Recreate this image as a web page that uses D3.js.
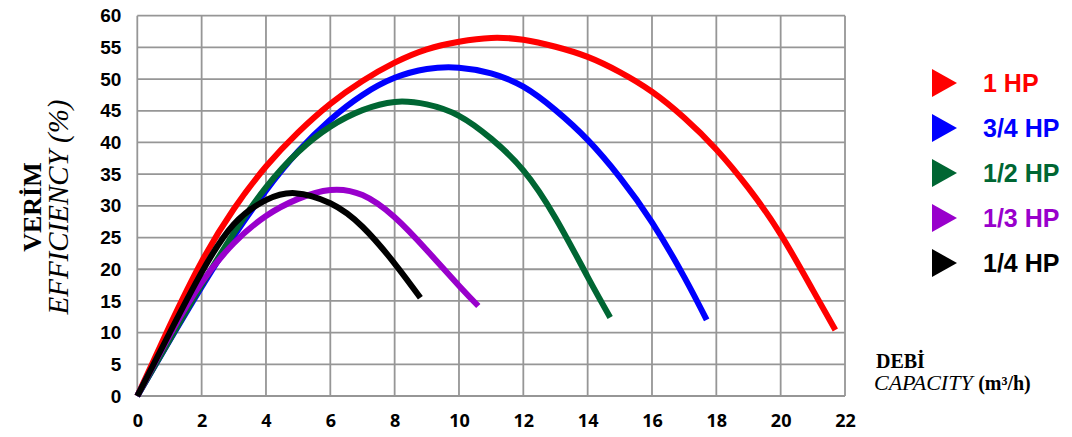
<!DOCTYPE html>
<html>
<head>
<meta charset="utf-8">
<script src="https://cdn.jsdelivr.net/npm/d3@7"></script>
<style>
  html, body { margin: 0; padding: 0; background: #fff; }
  svg { display: block; }
</style>
</head>
<body>
<svg id="chart" width="1072" height="437"></svg>
<script>
// ---------- DATA ----------
const seriesNames = ["1 HP", "3/4 HP", "1/2 HP", "1/3 HP", "1/4 HP"];
const seriesColors = ["#ff0000", "#0000ff", "#006633", "#9900cc", "#000000"];

const hp1Q   = [0, 1, 2, 3, 4, 5, 6, 7, 8, 9, 10, 11, 12, 13, 14, 15, 16, 17, 18, 19, 20, 21, 21.7];
const hp1E   = [0, 11.0, 21.2, 29.5, 36.2, 41.6, 46.1, 49.7, 52.6, 54.7, 55.9, 56.5, 56.2, 55.1, 53.5, 51.1, 48.0, 43.9, 38.9, 32.8, 25.5, 16.7, 10.4];

const hp34Q  = [0, 1, 2, 3, 4, 5, 6, 7, 8, 9, 10, 11, 12, 13, 14, 15, 16, 17, 17.7];
const hp34E  = [0, 8.7, 17.2, 25.2, 32.4, 38.6, 43.6, 47.5, 50.2, 51.6, 51.8, 50.9, 48.8, 45.1, 40.4, 34.5, 27.4, 18.8, 12.0];

const hp12Q  = [0, 1, 2, 3, 4, 5, 6, 7, 8, 9, 10, 11, 12, 13, 14, 14.7];
const hp12E  = [0, 8.8, 17.5, 25.7, 32.9, 38.5, 42.5, 45.1, 46.4, 46.0, 44.2, 40.6, 35.6, 28.1, 18.8, 12.4];

const hp13Q  = [0, 1, 2, 3, 4, 5, 6, 7, 8, 9, 10, 10.6];
const hp13E  = [0, 9.5, 17.9, 24.1, 28.4, 31.1, 32.5, 31.7, 28.2, 23.0, 17.4, 14.2];

const hp14Q  = [0, 1, 2, 3, 4, 4.9, 6, 7, 8, 8.8];
const hp14E  = [0, 9.9, 19.5, 27.1, 30.9, 32.0, 30.4, 26.7, 20.9, 15.5];

const xTicks = [0, 2, 4, 6, 8, 10, 12, 14, 16, 18, 20, 22];
const yTicks = [0, 5, 10, 15, 20, 25, 30, 35, 40, 45, 50, 55, 60];

// ---------- BUILD ----------
const seriesQ = [hp1Q, hp34Q, hp12Q, hp13Q, hp14Q];
const seriesE = [hp1E, hp34E, hp12E, hp13E, hp14E];
const series = seriesNames.map((name, i) => ({
  name, color: seriesColors[i],
  points: seriesQ[i].map((q, j) => ({ q, e: seriesE[i][j] }))
}));

const svg = d3.select("#chart");
const x = d3.scaleLinear().domain([0, 22]).range([137.3, 845]);
const y = d3.scaleLinear().domain([0, 60]).range([396, 15.7]);

const gridColor = "#969696";
const grid = svg.append("g");
grid.selectAll("line.v").data(xTicks).join("line")
  .attr("x1", d => x(d)).attr("x2", d => x(d))
  .attr("y1", y(0)).attr("y2", y(60))
  .attr("stroke", gridColor).attr("stroke-width", 1.8);
grid.selectAll("line.h").data(yTicks).join("line")
  .attr("x1", x(0)).attr("x2", x(22))
  .attr("y1", d => y(d)).attr("y2", d => y(d))
  .attr("stroke", gridColor).attr("stroke-width", 1.8);

// Y axis labels
const yAxis = d3.axisLeft(y).tickValues(yTicks).tickSize(0).tickPadding(16);
const gy = svg.append("g").attr("transform", `translate(${x(0)},0)`).call(yAxis);
gy.select(".domain").remove();
gy.selectAll("text")
  .attr("font-family", "'Liberation Sans', Arial, sans-serif")
  .attr("font-weight", "bold").attr("font-size", 19).attr("fill", "#000");

// X axis labels
const xAxis = d3.axisBottom(x).tickValues(xTicks).tickSize(0).tickPadding(18);
const gx = svg.append("g").attr("transform", `translate(0,${y(0)})`).call(xAxis);
gx.select(".domain").remove();
gx.selectAll("text")
  .attr("font-family", "'Open Sans', sans-serif")
  .attr("font-weight", "bold").attr("font-size", 18).attr("fill", "#000");

// Curves
const line = d3.line()
  .x(d => x(d.q)).y(d => y(d.e))
  .curve(d3.curveNatural);
svg.append("g").selectAll("path").data(series).join("path")
  .attr("d", d => line(d.points))
  .attr("fill", "none")
  .attr("stroke", d => d.color)
  .attr("stroke-width", 6)
  .attr("stroke-linecap", "butt");

// Y axis title
const yt = svg.append("g").attr("transform", "translate(0,207) rotate(-90)");
yt.append("text").attr("x", 0).attr("y", 41)
  .attr("text-anchor", "middle")
  .attr("font-family", "'Liberation Serif', 'Times New Roman', serif")
  .attr("font-weight", "bold").attr("font-size", 26).text("VERİM");
yt.append("text").attr("x", 0).attr("y", 68)
  .attr("text-anchor", "middle")
  .attr("font-family", "'Liberation Serif', 'Times New Roman', serif")
  .attr("font-style", "italic").attr("font-size", 29).text("EFFICIENCY (%)");

// X axis title
svg.append("text").attr("x", 876).attr("y", 368)
  .attr("font-family", "'Liberation Serif', 'Times New Roman', serif")
  .attr("font-weight", "bold").attr("font-size", 20).text("DEBİ");
const xt = svg.append("text").attr("x", 874).attr("y", 390)
  .attr("font-family", "'Liberation Serif', 'Times New Roman', serif");
xt.append("tspan").attr("font-style", "italic").attr("font-size", 22).text("CAPACITY ");
xt.append("tspan").attr("font-weight", "bold").attr("font-size", 20).text("(m³/h)");

// Legend
const ly = d3.scalePoint().domain(seriesNames).range([83, 263]);
const lg = svg.append("g").selectAll("g").data(series).join("g")
  .attr("transform", d => `translate(932,${ly(d.name)})`);
lg.append("path")
  .attr("d", "M0,-14 L25,0 L0,14 Z")
  .attr("fill", d => d.color);
lg.append("text")
  .attr("x", 51).attr("y", 0).attr("dy", "0.36em")
  .attr("font-family", "'Liberation Sans', Arial, sans-serif")
  .attr("font-weight", "bold").attr("font-size", 25)
  .attr("fill", d => d.color)
  .text(d => d.name);
</script>
</body>
</html>
